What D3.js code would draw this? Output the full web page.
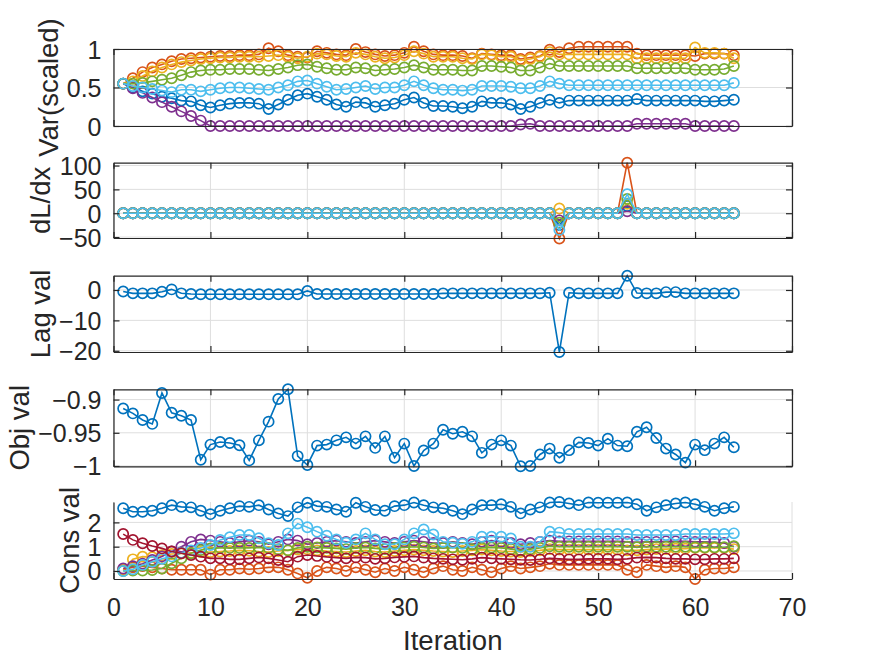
<!DOCTYPE html>
<html><head><meta charset="utf-8">
<script src="https://cdn.jsdelivr.net/npm/d3@7"></script>
<style>
body{margin:0;background:#fff}
text{font-family:"Liberation Sans",Arial,sans-serif;fill:#262626}
</style>
</head><body>
<svg id="c" width="875" height="656"></svg>
<script>
const iterations = [1,2,3,4,5,6,7,8,9,10,11,12,13,14,15,16,17,18,19,20,21,22,23,24,25,26,27,28,29,30,31,32,33,34,35,36,37,38,39,40,41,42,43,44,45,46,47,48,49,50,51,52,53,54,55,56,57,58,59,60,61,62,63,64];
const xTicks = [0,10,20,30,40,50,60,70];

// Panel 1: Var(scaled)
const var_blue = [0.55,0.50,0.45,0.42,0.38,0.36,0.33,0.32,0.27,0.24, 0.27,0.29,0.30,0.30,0.29,0.22,0.28,0.34,0.40,0.42, 0.38,0.34,0.28,0.25,0.31,0.30,0.25,0.27,0.29,0.34, 0.37,0.30,0.26,0.26,0.25,0.23,0.25,0.32,0.30,0.30, 0.28,0.22,0.25,0.30,0.34,0.30,0.33,0.33,0.33,0.33, 0.33,0.33,0.33,0.35,0.33,0.33,0.33,0.33,0.33,0.33, 0.32,0.32,0.33,0.34];
const var_orange = [0.55,0.62,0.70,0.76,0.80,0.84,0.87,0.88,0.89,0.90, 0.91,0.91,0.92,0.92,0.93,1.01,0.97,0.92,0.90,0.89, 0.97,0.95,0.93,0.92,1.00,0.96,0.93,0.91,0.92,0.95, 1.03,0.97,0.93,0.92,0.92,0.91,0.88,0.94,0.93,0.92, 0.92,0.87,0.89,0.91,0.99,0.96,1.01,1.03,1.03,1.03, 1.03,1.03,1.03,0.94,0.92,0.92,0.92,0.92,0.92,0.91, 0.94,0.94,0.94,0.92];
const var_yellow = [0.55,0.58,0.65,0.71,0.76,0.80,0.83,0.85,0.87,0.88, 0.89,0.89,0.90,0.90,0.90,0.91,0.92,0.90,0.88,0.90, 0.94,0.93,0.91,0.90,0.95,0.93,0.90,0.88,0.89,0.92, 0.97,0.94,0.90,0.90,0.90,0.88,0.87,0.93,0.92,0.90, 0.90,0.85,0.87,0.90,0.96,0.93,0.93,0.93,0.93,0.93, 0.93,0.93,0.93,0.88,0.88,0.88,0.88,0.88,0.88,1.02, 0.95,0.95,0.94,0.88];
const var_purple = [0.55,0.49,0.43,0.37,0.31,0.25,0.19,0.13,0.07,0.00, 0,0,0,0,0,0,0,0,0,0, 0,0,0,0,0,0,0,0,0,0, 0,0,0,0,0,0,0,0,0,0, 0,0.02,0.03,0,0,0,0,0,0,0, 0,0,0,0.03,0.03,0.03,0.03,0.03,0.03,0, 0,0,0,0];
const var_green = [0.55,0.55,0.56,0.58,0.60,0.62,0.66,0.70,0.72,0.73, 0.73,0.74,0.74,0.74,0.73,0.72,0.74,0.76,0.79,0.80, 0.77,0.75,0.73,0.73,0.76,0.75,0.72,0.73,0.74,0.76, 0.79,0.76,0.73,0.73,0.73,0.72,0.72,0.78,0.78,0.77, 0.76,0.72,0.72,0.76,0.81,0.78,0.78,0.78,0.78,0.78, 0.78,0.78,0.78,0.75,0.75,0.75,0.75,0.75,0.75,0.73, 0.73,0.73,0.74,0.78];
const var_lblue = [0.55,0.52,0.50,0.48,0.46,0.44,0.47,0.47,0.45,0.47, 0.49,0.50,0.50,0.49,0.48,0.47,0.50,0.53,0.58,0.59, 0.55,0.51,0.47,0.48,0.50,0.52,0.48,0.50,0.50,0.53, 0.58,0.53,0.49,0.47,0.47,0.46,0.47,0.52,0.52,0.52, 0.51,0.49,0.49,0.52,0.58,0.55,0.53,0.53,0.53,0.53, 0.53,0.53,0.53,0.53,0.53,0.53,0.53,0.53,0.53,0.53, 0.53,0.53,0.53,0.56];

// Panel 2: dL/dx
const grad_blue = [0,0,0,0,0,0,0,0,0,0, 0,0,0,0,0,0,0,0,0,0, 0,0,0,0,0,0,0,0,0,0, 0,0,0,0,0,0,0,0,0,0, 0,0,0,0,0,-25,0,0,0,0, 0,0,15,0,0,0,0,0,0,0, 0,0,0,0];
const grad_orange = [0,0,0,0,0,0,0,0,0,0, 0,0,0,0,0,0,0,0,0,0, 0,0,0,0,0,0,0,0,0,0, 0,0,0,0,0,0,0,0,0,0, 0,0,0,0,0,-53,0,0,0,0, 0,0,106,0,0,0,0,0,0,0, 0,0,0,0];
const grad_yellow = [0,0,0,0,0,0,0,0,0,0, 0,0,0,0,0,0,0,0,0,0, 0,0,0,0,0,0,0,0,0,0, 0,0,0,0,0,0,0,0,0,0, 0,0,0,0,0,10,0,0,0,0, 0,0,20,0,0,0,0,0,0,0, 0,0,0,0];
const grad_purple = [0,0,0,0,0,0,0,0,0,0, 0,0,0,0,0,0,0,0,0,0, 0,0,0,0,0,0,0,0,0,0, 0,0,0,0,0,0,0,0,0,0, 0,0,0,0,0,-15,0,0,0,0, 0,0,4,0,0,0,0,0,0,0, 0,0,0,0];
const grad_green = [0,0,0,0,0,0,0,0,0,0, 0,0,0,0,0,0,0,0,0,0, 0,0,0,0,0,0,0,0,0,0, 0,0,0,0,0,0,0,0,0,0, 0,0,0,0,0,-20,0,0,0,0, 0,0,30,0,0,0,0,0,0,0, 0,0,0,0];
const grad_lblue = [0,0,0,0,0,0,0,0,0,0, 0,0,0,0,0,0,0,0,0,0, 0,0,0,0,0,0,0,0,0,0, 0,0,0,0,0,0,0,0,0,0, 0,0,0,0,0,-35,0,0,0,0, 0,0,40,0,0,0,0,0,0,0, 0,0,0,0];

// Panel 3: Lag val
const lag_val = [-0.5,-1.1,-1.1,-1.1,-0.6,0.2,-1.1,-1.3,-1.4,-1.4, -1.4,-1.4,-1.4,-1.4,-1.4,-1.4,-1.4,-1.4,-1.4,-0.3, -1.3,-1.3,-1.3,-1.3,-1.3,-1.3,-1.3,-1.3,-1.3,-1.3, -1.3,-1.3,-1.3,-1.1,-1.1,-1.1,-1.1,-1.1,-1.1,-1.1, -1.1,-1.1,-1.1,-1.1,-0.9,-20.4,-0.9,-1.1,-1.1,-1.1, -1.1,-1.1,4.7,-1.0,-1.1,-1.1,-0.7,-0.7,-1.1,-1.1, -1.1,-1.1,-1.1,-1.1];

// Panel 4: Obj val
const obj_val = [-0.9134,-0.9208,-0.9307,-0.9366,-0.8900,-0.9198,-0.9243,-0.9307,-0.9906,-0.9678, -0.9639,-0.9653,-0.9688,-0.9916,-0.9614,-0.9332,-0.8990,-0.8845,-0.9851,-0.9985, -0.9693,-0.9678,-0.9614,-0.9569,-0.9663,-0.9554,-0.9728,-0.9554,-0.9876,-0.9663, -1.0000,-0.9767,-0.9663,-0.9455,-0.9515,-0.9485,-0.9554,-0.9802,-0.9678,-0.9614, -0.9693,-1.0005,-1.0000,-0.9827,-0.9738,-0.9876,-0.9762,-0.9644,-0.9653,-0.9693, -0.9589,-0.9693,-0.9703,-0.9485,-0.9416,-0.9579,-0.9738,-0.9827,-0.9950,-0.9678, -0.9762,-0.9663,-0.9569,-0.9718];

// Panel 5: Cons val
const cons_blue = [2.58,2.44,2.44,2.48,2.58,2.71,2.64,2.62,2.48,2.34, 2.48,2.58,2.67,2.64,2.71,2.53,2.37,2.26,2.62,2.81, 2.67,2.64,2.53,2.44,2.81,2.64,2.51,2.48,2.67,2.71, 2.82,2.71,2.62,2.58,2.48,2.34,2.53,2.71,2.71,2.75, 2.64,2.37,2.53,2.62,2.82,2.84,2.78,2.71,2.82,2.81, 2.81,2.81,2.82,2.75,2.48,2.62,2.71,2.78,2.82,2.75, 2.64,2.48,2.58,2.64];
const cons_orange = [0.05,0.15,0.20,0.15,0.10,0.05,0.05,0.05,0.05,-0.15, 0.05,0.05,0.10,0.07,0.10,0.15,0.15,0.05,-0.10,-0.28, 0.00,0.15,0.10,0.00,0.15,0.05,-0.05,0.10,0.00,0.15, 0.05,-0.05,0.10,0.20,0.05,0.00,0.15,0.05,-0.05,0.10, 0.20,0.10,0.15,0.20,0.30,0.25,0.25,0.25,0.25,0.25, 0.25,0.25,0.05,-0.05,0.25,0.20,0.15,0.20,0.15,-0.33, 0.05,0.10,0.10,0.15];
const cons_yellow = [0.05,0.48,0.59,0.57,0.65,0.70,0.72,0.75,0.78,0.78, 0.80,0.82,0.85,0.83,0.80,0.78,0.82,0.85,0.88,0.90, 0.85,0.82,0.80,0.78,0.82,0.85,0.80,0.78,0.82,0.85, 0.88,0.85,0.82,0.80,0.78,0.82,0.85,0.88,0.85,0.82, 0.80,0.78,0.82,0.85,0.90,0.88,0.88,0.88,0.88,0.88, 0.88,0.88,0.85,0.85,0.88,0.90,0.90,0.92,0.92,0.95, 0.95,0.95,0.95,0.90];
const cons_purple = [0.10,0.20,0.30,0.45,0.60,0.80,1.00,1.20,1.30,1.25, 1.20,1.15,1.20,1.25,1.20,1.10,1.20,1.30,1.25,1.10, 1.15,1.20,1.25,1.20,1.15,1.20,1.25,1.20,1.15,1.20, 1.25,1.20,1.15,1.15,1.20,1.15,1.10,1.20,1.25,1.20, 1.15,1.10,1.15,1.20,1.25,1.22,1.22,1.22,1.22,1.22, 1.22,1.22,1.20,1.18,1.20,1.20,1.22,1.22,1.22,1.20, 1.20,1.18,1.15,1.00];
const cons_green = [0.00,0.02,0.02,0.04,0.10,0.32,0.52,0.73,0.86,0.93, 0.95,0.95,0.95,0.95,0.97,0.95,0.90,0.85,0.95,1.00, 0.97,0.95,0.93,0.90,0.95,0.97,0.93,0.90,0.95,0.97, 1.00,0.97,0.93,0.95,0.97,0.95,0.90,0.95,0.97,0.95, 0.90,0.85,0.90,0.95,1.02,1.00,1.00,1.00,1.00,1.00, 1.00,1.00,1.00,0.98,1.00,1.00,1.00,1.00,1.00,0.98, 0.98,0.98,0.98,1.02];
const cons_lblue = [0.00,0.07,0.25,0.38,0.50,0.60,0.75,0.85,0.95,1.07, 1.28,1.39,1.48,1.48,1.35,1.14,1.07,1.55,1.95,1.80, 1.62,1.45,1.30,1.16,1.30,1.55,1.30,1.10,1.10,1.30, 1.55,1.71,1.50,1.20,1.16,1.12,1.20,1.41,1.41,1.41, 1.34,1.00,1.00,1.20,1.62,1.58,1.52,1.52,1.52,1.52, 1.52,1.52,1.52,1.48,1.48,1.48,1.48,1.48,1.52,1.52, 1.52,1.52,1.52,1.55];
const cons_dred = [1.52,1.28,1.14,1.03,0.93,0.80,0.73,0.66,0.59,0.52, 0.52,0.48,0.48,0.52,0.56,0.52,0.45,0.38,0.59,0.66, 0.62,0.58,0.55,0.52,0.56,0.55,0.50,0.52,0.56,0.58, 0.60,0.55,0.52,0.50,0.48,0.46,0.50,0.55,0.52,0.50, 0.48,0.46,0.45,0.48,0.52,0.50,0.48,0.48,0.50,0.50, 0.50,0.48,0.50,0.55,0.56,0.55,0.52,0.50,0.50,0.48, 0.48,0.50,0.50,0.52];

const labels = ["Var(scaled)","dL/dx","Lag val","Obj val","Cons val"];
const yTicks = [[0,0.5,1],[-50,0,50,100],[-20,-10,0],[-1,-0.95,-0.9],[0,1,2]];
const yDomains = [[0,1],[-52,106],[-20.4,4.7],[-1.0005,-0.8845],[-0.33,2.84]];
const xLabel = "Iteration";

const C = {blue:"#0072BD",orange:"#D95319",yellow:"#EDB120",purple:"#7E2F8E",green:"#77AC30",lblue:"#4DBEEE",dred:"#A2142F"};

const panels = [
  {top:49, bottom:126, box:true, series:[[var_blue,C.blue],[var_orange,C.orange],[var_yellow,C.yellow],[var_purple,C.purple],[var_green,C.green],[var_lblue,C.lblue]]},
  {top:162.7, bottom:238, box:true, series:[[grad_blue,C.blue],[grad_orange,C.orange],[grad_yellow,C.yellow],[grad_purple,C.purple],[grad_green,C.green],[grad_lblue,C.lblue]]},
  {top:275.7, bottom:352, box:true, series:[[lag_val,C.blue]]},
  {top:389.3, bottom:466.3, box:true, series:[[obj_val,C.blue]]},
  {top:502, bottom:579, box:false, series:[[cons_blue,C.blue],[cons_orange,C.orange],[cons_yellow,C.yellow],[cons_purple,C.purple],[cons_green,C.green],[cons_lblue,C.lblue],[cons_dred,C.dred]]}
];

const L = 113.5, R = 792;
const x = d3.scaleLinear().domain([0,70]).range([L,R]);
const svg = d3.select("#c");
const fmt = d3.format("~g");
const axisColor = "#262626", gridColor = "#dedede";
const TK = 6;
const TICK_FS = "25px", LABEL_FS = "27.5px";

panels.forEach((p, k) => {
  const y = d3.scaleLinear().domain(yDomains[k]).range([p.bottom, p.top]);
  const g = svg.append("g");
  // grid
  g.append("g").selectAll("line").data(xTicks).join("line")
    .attr("x1", d => x(d)).attr("x2", d => x(d)).attr("y1", p.top).attr("y2", p.bottom)
    .attr("stroke", gridColor).attr("stroke-width", 1);
  g.append("g").selectAll("line").data(yTicks[k]).join("line")
    .attr("x1", L).attr("x2", R).attr("y1", d => y(d)).attr("y2", d => y(d))
    .attr("stroke", gridColor).attr("stroke-width", 1);
  // series
  const line = d3.line().x((d,i) => x(iterations[i])).y(d => y(d));
  p.series.forEach(([vals, col]) => {
    const s = g.append("g");
    s.append("path").attr("d", line(vals)).attr("fill","none").attr("stroke", col).attr("stroke-width", 1.6);
    s.selectAll("circle").data(vals).join("circle")
      .attr("cx", (d,i) => x(iterations[i])).attr("cy", d => y(d)).attr("r", 5.1)
      .attr("fill","none").attr("stroke", col).attr("stroke-width", 1.7);
  });
  // axes
  const ax = g.append("g");
  const left = ax.append("g").attr("transform", `translate(${L},0)`)
    .call(d3.axisLeft(y).tickValues(yTicks[k]).tickSize(-TK).tickSizeOuter(0).tickPadding(12).tickFormat(fmt));
  const bottom = ax.append("g").attr("transform", `translate(0,${p.bottom})`)
    .call(d3.axisBottom(x).tickValues(xTicks).tickSize(-TK).tickSizeOuter(0).tickPadding(19)
      .tickFormat(k === 4 ? fmt : () => ""));
  if (p.box) {
    ax.append("g").attr("transform", `translate(${R},0)`)
      .call(d3.axisRight(y).tickValues(yTicks[k]).tickSize(-TK).tickSizeOuter(0).tickFormat(() => ""));
    ax.append("g").attr("transform", `translate(0,${p.top})`)
      .call(d3.axisTop(x).tickValues(xTicks).tickSize(-TK).tickSizeOuter(0).tickFormat(() => ""));
  }
  ax.selectAll("path.domain").attr("stroke", axisColor).attr("stroke-width", 1.2);
  ax.selectAll(".tick line").attr("stroke", axisColor).attr("stroke-width", 1.2);
  ax.selectAll("g").attr("font-size", null).attr("font-family", null);
  ax.selectAll(".tick text").style("font-size", TICK_FS);
  left.selectAll(".tick text").attr("dy", "0.36em");
  bottom.selectAll(".tick text").attr("dy", "0.71em");
  // y label
  let maxW = 0;
  left.selectAll(".tick text").each(function(){ maxW = Math.max(maxW, this.getComputedTextLength()); });
  const lx = L - 12 - maxW - 9;
  const cy = (p.top + p.bottom) / 2;
  g.append("text").attr("transform", `translate(${lx},${cy}) rotate(-90)`)
    .attr("text-anchor","middle").style("font-size", LABEL_FS).text(labels[k]);
});

svg.append("text").attr("x", (L+R)/2).attr("y", 650).attr("text-anchor","middle")
  .style("font-size", LABEL_FS).text(xLabel);
</script>
</body></html>
